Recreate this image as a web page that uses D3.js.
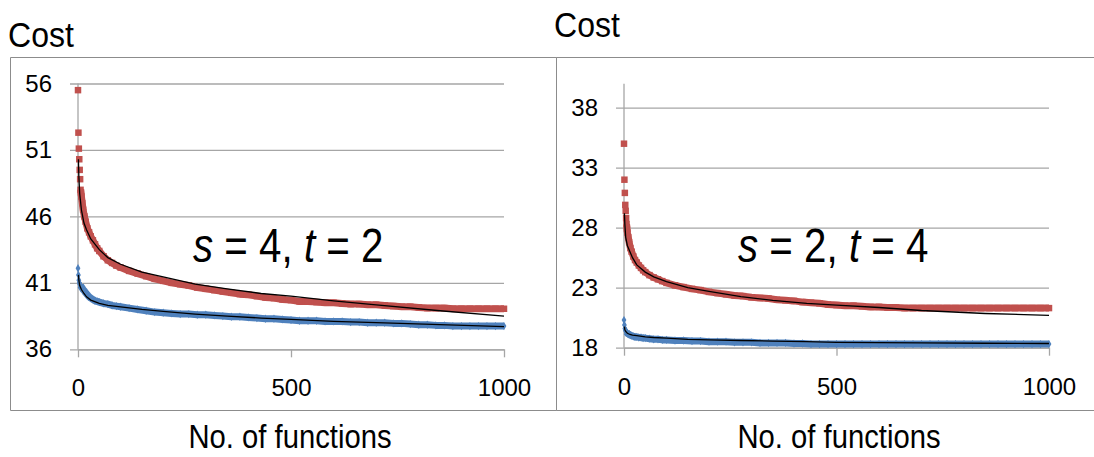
<!DOCTYPE html>
<html>
<head>
<meta charset="utf-8">
<script src="https://cdn.jsdelivr.net/npm/d3@7"></script>
<style>
  body { margin: 0; background: #fff; }
  text { font-family: "Liberation Sans", Arial, sans-serif; fill: #000; }
</style>
</head>
<body>
<svg id="chart" width="1094" height="457"></svg>
<script>
// number of functions where a cost was sampled
var funcs = [0, 1, 2, 3, 4, 5, 6, 7, 8, 10, 12, 15, 18, 22, 26, 30, 35, 40, 45, 50, 60, 70, 80, 90,
  100, 120, 140, 160, 180, 200, 220, 240, 260, 280, 300, 320, 340, 360, 380, 400, 420, 440, 460, 480,
  500, 520, 540, 560, 580, 600, 620, 640, 660, 680, 700, 720, 740, 760, 780, 800, 820, 840, 860, 880,
  900, 920, 940, 960, 980, 1000];

// s = 4, t = 2
var leftRed = [55.5, 52.3, 51.1, 50.3, 49.5, 48.8, 48.0, 47.8, 47.5, 47.0, 46.5, 46.0, 45.6, 45.1, 44.8, 44.5, 44.2, 43.9, 43.6, 43.4, 43.0, 42.7, 42.5, 42.3,
  42.15, 41.9, 41.7, 41.5, 41.3, 41.15, 41.0, 40.9, 40.8, 40.65, 40.55, 40.45, 40.35, 40.25, 40.15, 40.1, 40.0, 39.9, 39.85, 39.75,
  39.7, 39.6, 39.6, 39.55, 39.5, 39.5, 39.45, 39.4, 39.4, 39.35, 39.35, 39.3, 39.25, 39.2, 39.2, 39.15, 39.1, 39.1, 39.1, 39.05,
  39.05, 39.05, 39.05, 39.05, 39.05, 39.05];
var leftBlue = [42.1, 41.6, 41.2, 41.0, 40.9, 40.85, 40.8, 40.75, 40.7, 40.6, 40.5, 40.4, 40.25, 40.1, 39.95, 39.85, 39.75, 39.65, 39.6, 39.55, 39.45, 39.4, 39.3, 39.25,
  39.2, 39.1, 39.0, 38.9, 38.8, 38.75, 38.7, 38.65, 38.65, 38.6, 38.6, 38.55, 38.5, 38.45, 38.45, 38.4, 38.35, 38.3, 38.3, 38.25,
  38.2, 38.15, 38.15, 38.15, 38.1, 38.1, 38.1, 38.05, 38.05, 38.0, 38.0, 38.0, 37.95, 37.95, 37.9, 37.85, 37.85, 37.8, 37.8, 37.75,
  37.75, 37.75, 37.75, 37.75, 37.75, 37.75];

// s = 2, t = 4
var rightRed = [35.0, 32.0, 30.9, 29.9, 29.4, 28.8, 28.3, 27.9, 27.6, 27.2, 26.8, 26.3, 26.0, 25.6, 25.3, 25.1, 24.85, 24.65, 24.45, 24.3, 24.05, 23.85, 23.7, 23.55,
  23.4, 23.2, 23.05, 22.9, 22.8, 22.65, 22.55, 22.45, 22.35, 22.3, 22.2, 22.15, 22.1, 22.0, 21.95, 21.9, 21.8, 21.75, 21.7, 21.6,
  21.55, 21.5, 21.5, 21.45, 21.4, 21.4, 21.35, 21.35, 21.3, 21.3, 21.3, 21.3, 21.3, 21.3, 21.3, 21.3, 21.3, 21.3, 21.3, 21.3,
  21.3, 21.3, 21.3, 21.3, 21.3, 21.3];
var rightBlue = [20.3, 19.9, 19.6, 19.5, 19.4, 19.35, 19.3, 19.25, 19.2, 19.15, 19.1, 19.05, 19.0, 18.95, 18.9, 18.9, 18.85, 18.85, 18.8, 18.8, 18.75, 18.7, 18.7, 18.65,
  18.65, 18.6, 18.6, 18.55, 18.55, 18.5, 18.5, 18.5, 18.45, 18.45, 18.45, 18.4, 18.4, 18.4, 18.4, 18.35, 18.35, 18.3, 18.3, 18.3,
  18.3, 18.3, 18.3, 18.3, 18.3, 18.3, 18.3, 18.3, 18.3, 18.3, 18.3, 18.3, 18.3, 18.3, 18.3, 18.3, 18.3, 18.3, 18.3, 18.3,
  18.3, 18.3, 18.3, 18.3, 18.3, 18.3];

// black trend lines
var trendFuncs = [1, 2, 4, 8, 14, 20, 30, 50, 70, 100, 150, 200, 275, 350, 430, 500, 600, 700, 850, 1000];
var leftRedTrend = [50.3, 49.0, 47.7, 46.5, 45.5, 45.0, 44.3, 43.5, 42.9, 42.4, 41.8, 41.45, 40.9, 40.55, 40.2, 40.0, 39.65, 39.35, 38.9, 38.5];
var leftBlueTrend = [41.6, 41.2, 40.8, 40.5, 40.2, 39.95, 39.7, 39.45, 39.3, 39.2, 39.0, 38.85, 38.65, 38.5, 38.35, 38.25, 38.1, 38.0, 37.85, 37.7];
var rightRedTrend = [29.2, 28.3, 27.2, 26.5, 26.0, 25.5, 24.9, 24.3, 23.9, 23.5, 23.0, 22.7, 22.25, 21.95, 21.7, 21.55, 21.35, 21.1, 20.85, 20.7];
var rightBlueTrend = [19.75, 19.5, 19.35, 19.2, 19.1, 19.05, 19.0, 18.9, 18.85, 18.8, 18.7, 18.65, 18.6, 18.55, 18.5, 18.45, 18.42, 18.4, 18.37, 18.35];

var xTicks = [0, 500, 1000];
var leftYTicks = [36, 41, 46, 51, 56];
var rightYTicks = [18, 23, 28, 33, 38];

var RED = "#C0504D", BLUE = "#4F81BD", GRID = "#A6A6A6";
var svg = d3.select("#chart");

function drawPanel(p) {
  var g = svg.append("g");
  var x = d3.scaleLinear().domain([0, 1000]).range([p.x0, p.x1]);
  var y = d3.scaleLinear().domain(p.yDomain).range([p.y0, p.y1]);
  var w = p.x1 - p.x0;

  // panel frame
  g.append("path")
    .attr("d", p.frame)
    .attr("fill", "none").attr("stroke", "#8C8C8C").attr("stroke-width", 1);

  // gridlines with outside ticks
  g.append("g")
    .attr("transform", "translate(" + (p.x0 - 8) + ",0)")
    .call(d3.axisLeft(y).tickValues(p.yTicks).tickSize(-(w + 8)).tickFormat(""))
    .call(function(a) { a.select(".domain").remove(); })
    .selectAll("line").attr("stroke", GRID).attr("stroke-width", 1.3);

  // y labels
  g.append("g")
    .attr("transform", "translate(" + (p.x0 - 8) + ",0)")
    .call(d3.axisLeft(y).tickValues(p.yTicks).tickSize(0).tickPadding(18))
    .call(function(a) { a.select(".domain").remove(); })
    .selectAll("text").attr("font-size", 24).attr("font-family", "Liberation Sans, Arial, sans-serif");

  // y axis line
  g.append("line")
    .attr("x1", p.x0).attr("x2", p.x0)
    .attr("y1", y(p.yDomain[1])).attr("y2", y(p.yDomain[0]))
    .attr("stroke", GRID).attr("stroke-width", 1.3);

  // x axis
  var xa = g.append("g")
    .attr("transform", "translate(0," + y(p.yDomain[0]) + ")")
    .call(d3.axisBottom(x).tickValues(xTicks).tickFormat(d3.format("d"))
      .tickSize(8).tickSizeOuter(0).tickPadding(22));
  xa.select(".domain").attr("stroke", GRID).attr("stroke-width", 1.3);
  xa.selectAll("line").attr("stroke", GRID).attr("stroke-width", 1.3);
  xa.selectAll("text").attr("font-size", 24).attr("font-family", "Liberation Sans, Arial, sans-serif");

  var line = d3.line().x(function(d) { return x(d[0]); }).y(function(d) { return y(d[1]); });

  function series(vals, color, shape, size) {
    var pts = funcs.map(function(f, i) { return [f, vals[i]]; });
    // dense markers merge into a band
    g.append("path")
      .datum(pts.filter(function(d) { return d[0] >= 6; }))
      .attr("d", line)
      .attr("fill", "none").attr("stroke", color).attr("stroke-width", 7)
      .attr("stroke-linejoin", "round");
    g.append("g").selectAll("path")
      .data(pts).enter().append("path")
      .attr("transform", function(d) { return "translate(" + x(d[0]) + "," + y(d[1]) + ")"; })
      .attr("d", d3.symbol().type(shape).size(size))
      .attr("fill", color);
  }
  series(p.red, RED, d3.symbolSquare, 42);
  series(p.blue, BLUE, d3.symbolDiamond, 20);

  [p.redTrend, p.blueTrend].forEach(function(vals) {
    g.append("path")
      .datum(trendFuncs.map(function(f, i) { return [f, vals[i]]; }))
      .attr("d", line)
      .attr("fill", "none").attr("stroke", "#000").attr("stroke-width", 1.3);
  });

  // titles
  g.append("text")
    .attr("transform", "translate(" + p.costX + "," + p.costY + ") scale(0.89,1)")
    .attr("font-size", 36).text("Cost");
  g.append("text")
    .attr("transform", "translate(" + p.labelX + ",448) scale(0.86,1)")
    .attr("text-anchor", "middle").attr("font-size", 34).text("No. of functions");

  var ann = g.append("text")
    .attr("transform", "translate(" + p.annX + ",262) scale(0.84,1)")
    .attr("font-size", 48);
  ann.append("tspan").attr("font-style", "italic").text("s");
  ann.append("tspan").text(" = " + p.s + ", ");
  ann.append("tspan").attr("font-style", "italic").text("t");
  ann.append("tspan").text(" = " + p.t);
}

drawPanel({
  x0: 78, x1: 504, y0: 349.3, y1: 83.5, yDomain: [36, 56], yTicks: leftYTicks,
  red: leftRed, blue: leftBlue, redTrend: leftRedTrend, blueTrend: leftBlueTrend,
  frame: "M10.5,57.5H556.5V410.5H10.5Z",
  costX: 8, costY: 47, labelX: 290, annX: 193, s: 4, t: 2
});
drawPanel({
  x0: 624, x1: 1049, y0: 347.7, y1: 83.7, yDomain: [18, 40], yTicks: rightYTicks,
  red: rightRed, blue: rightBlue, redTrend: rightRedTrend, blueTrend: rightBlueTrend,
  frame: "M1094,57.5H556.5V410.5H1094",
  costX: 554, costY: 37, labelX: 839, annX: 738, s: 2, t: 4
});
</script>
</body>
</html>
